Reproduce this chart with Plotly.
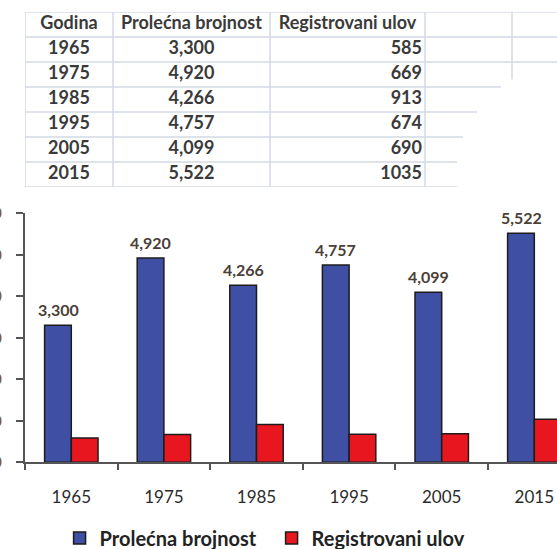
import plotly.graph_objects as go

# ---- data ----
years = ["1965", "1975", "1985", "1995", "2005", "2015"]
prolecna = [3300, 4920, 4266, 4757, 4099, 5522]
ulov = [585, 669, 913, 674, 690, 1035]
header_labels = ["Godina", "Prolećna brojnost", "Registrovani ulov"]
series_names = ["Prolećna brojnost", "Registrovani ulov"]
y_ticks = [0, 1000, 2000, 3000, 4000, 5000, 6000]

# ---- style ----
W, H = 557, 549
FONT = "Lato"
BLUE = "#3f4fa3"
RED = "#e8161f"
GRID = "#d3d9e4"
TXT = "#3a3a3a"

# table geometry (x in px from plot left, rows in row units)
col_edges = [0, 88, 245, 400, 487, 532]
n_rows = len(years) + 1
# right end of each horizontal rule (row boundary 0..n_rows)
hline_end = [532, 532, 532, 476, 452, 438, 432, 432]
# bottom end of each vertical rule
vline_end = [7.3, 7.3, 7.3, 7.3, 2.7]

fig = go.Figure()

# ---- table drawn on its own axes ----
shapes = []
for r, xe in enumerate(hline_end):
    shapes.append(dict(type="line", xref="x2", yref="y2", x0=0, x1=xe, y0=r, y1=r,
                       line=dict(color=GRID, width=1.5), layer="below"))
for c, ye in enumerate(vline_end):
    shapes.append(dict(type="line", xref="x2", yref="y2", x0=col_edges[c], x1=col_edges[c],
                       y0=0, y1=ye, line=dict(color=GRID, width=1.5), layer="below"))

col_center = [(col_edges[i] + col_edges[i + 1]) / 2 for i in range(3)]
row_mid = [r + 0.5 for r in range(n_rows)]

# header
fig.add_trace(go.Scatter(
    x=col_center, y=[row_mid[0]] * 3, text=[f"<b>{h}</b>" for h in header_labels],
    mode="text", textposition="middle center", xaxis="x2", yaxis="y2",
    textfont=dict(family=FONT, size=18, color=TXT), hoverinfo="skip", showlegend=False,
))
# Godina column
fig.add_trace(go.Scatter(
    x=[col_center[0]] * len(years), y=row_mid[1:], text=[f"<b>{y}</b>" for y in years],
    mode="text", textposition="middle center", xaxis="x2", yaxis="y2",
    textfont=dict(family=FONT, size=18, color=TXT), hoverinfo="skip", showlegend=False,
))
# Prolećna brojnost column
fig.add_trace(go.Scatter(
    x=[col_center[1]] * len(years), y=row_mid[1:], text=[f"<b>{v:,}</b>" for v in prolecna],
    mode="text", textposition="middle center", xaxis="x2", yaxis="y2",
    textfont=dict(family=FONT, size=18, color=TXT), hoverinfo="skip", showlegend=False,
))
# Registrovani ulov column (right aligned)
fig.add_trace(go.Scatter(
    x=[col_edges[3] - 3] * len(years), y=row_mid[1:], text=[f"<b>{v}</b>" for v in ulov],
    mode="text", textposition="middle left", xaxis="x2", yaxis="y2",
    textfont=dict(family=FONT, size=18, color=TXT), hoverinfo="skip", showlegend=False,
))

# ---- bars ----
fig.add_trace(go.Bar(
    x=years, y=prolecna, name=series_names[0],
    marker=dict(color=BLUE, line=dict(color="#1c1c1c", width=1.5)),
))
fig.add_trace(go.Bar(
    x=years, y=ulov, name=series_names[1],
    marker=dict(color=RED, line=dict(color="#1c1c1c", width=1.5)),
))

annotations = []
for i, v in enumerate(prolecna):
    annotations.append(dict(
        x=i, y=v, xref="x", yref="y", text=f"<b>{v:,}</b>",
        showarrow=False, xshift=-13.3, yanchor="bottom", yshift=4,
        font=dict(family=FONT, size=16, color="#4a4038"),
    ))

fig.update_layout(
    width=W, height=H,
    margin=dict(l=25, r=0, t=0, b=0, autoexpand=False),
    paper_bgcolor="white", plot_bgcolor="white",
    barmode="group", bargap=0.423, bargroupgap=0,
    annotations=annotations, shapes=shapes,
    showlegend=True,
    legend=dict(
        orientation="h", x=0.065, xanchor="left", y=(H - 538) / H, yanchor="middle",
        font=dict(family=FONT, size=20, color="#222", weight="bold"),
        entrywidth=167, entrywidthmode="pixels",
        bgcolor="rgba(0,0,0,0)",
    ),
    xaxis=dict(
        type="category", domain=[0, 1], range=[-0.5, 5.245],
        tickson="boundaries", ticks="outside", ticklen=6, tickwidth=1.5,
        tickcolor="#555", showline=True, linecolor="#555", linewidth=1.5,
        showgrid=False, tickfont=dict(family=FONT, size=17, color="#2b2b2b"),
        ticklabelstandoff=19, automargin=False,
    ),
    yaxis=dict(
        domain=[(H - 462.3) / H, (H - 213.3) / H], range=[0, 6000],
        tickvals=y_ticks, tickformat=",", ticks="outside", ticklen=7,
        tickwidth=1.5, tickcolor="#555", showline=True, linecolor="#555",
        linewidth=1.5, showgrid=False, zeroline=False,
        tickfont=dict(family=FONT, size=17, color="#8a5a2e", weight="bold"),
        ticklabelstandoff=11, automargin=False,
    ),
    xaxis2=dict(domain=[0, 1], range=[0, 532], visible=False, anchor="y2"),
    yaxis2=dict(domain=[1 - 187 / H, 1 - 12 / H], range=[n_rows, 0], visible=False,
                anchor="x2"),
)

fig.write_html("out.html", config={"displayModeBar": False},
               post_script="document.body.style.margin='0';")
